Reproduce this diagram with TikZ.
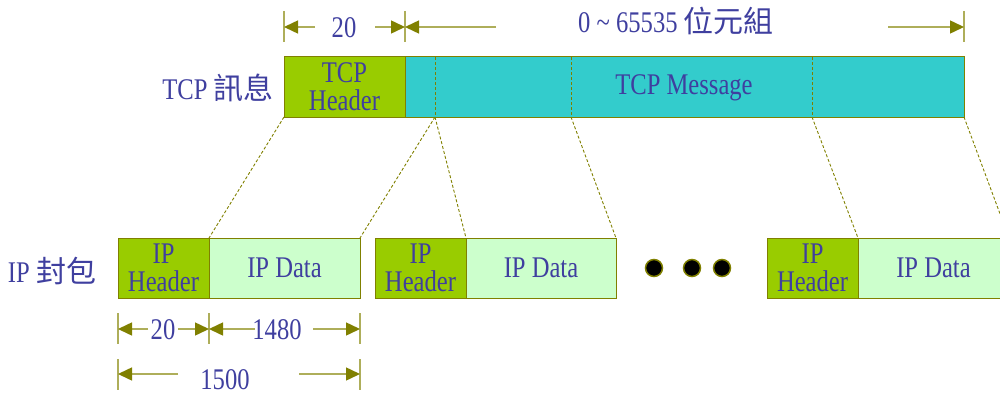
\documentclass[tikz,border=0pt]{standalone}
\usepackage{fontspec}
\setmainfont{Liberation Serif}[FakeStretch=0.82]
\newfontfamily\cjk{Noto Sans CJK TC}
\usetikzlibrary{arrows.meta}
\definecolor{ink}{HTML}{3F3F9F}
\definecolor{olive}{HTML}{808000}
\definecolor{dimline}{HTML}{AEAE5A}
\definecolor{hdrgreen}{HTML}{99CC00}
\definecolor{msgcyan}{HTML}{33CCCC}
\definecolor{datagreen}{HTML}{CCFFCC}
\newcommand\labelsize{\fontsize{30}{28}\selectfont}
\tikzset{
  field/.style={draw=olive, line width=1pt, inner sep=0pt, outer sep=0pt,
    anchor=north west, minimum height=60pt, text=ink, align=center,
    font=\labelsize},
  hdr/.style={field, fill=hdrgreen, minimum width=91pt},
  ipdata/.style={field, fill=datagreen, minimum width=151pt},
  split/.style={draw=olive, dashed, dash pattern=on 3pt off 2pt, line width=0.9pt},
  tick/.style={draw=dimline, line width=1.5pt},
  dimarrow/.style={draw=dimline, line width=1.5pt,
    -{Triangle[length=14pt,width=13pt,color=olive,fill=olive]}},
  dimtext/.style={text=ink, font=\labelsize, inner sep=0pt},
  sidelabel/.style={text=ink, font=\labelsize, inner sep=0pt},
  dot/.style={circle, fill=black, draw=olive, line width=1.5pt, minimum size=17pt, inner sep=0pt}
}
\begin{document}
\begin{tikzpicture}[x=1pt,y=-1pt]
\useasboundingbox (0,0) rectangle (1000,396);
\clip (0,0) rectangle (1000,396);

% ---- TCP message ----
\node[field, fill=msgcyan, minimum width=559pt] (tcpm) at (405,57) {};
\node[field, fill=hdrgreen, minimum width=121pt] (tcph) at (284,57) {TCP\\Header};
\node[text=ink, font=\labelsize, inner sep=0pt] (msgtxt) at (684,88) {TCP Message};
\node[sidelabel] (tcplabel) at (218,88) {TCP {\cjk 訊息}};

% segment boundaries inside the message
\coordinate (s1t) at (435,57);  \coordinate (s1b) at (435,117);
\coordinate (s2t) at (571,57);  \coordinate (s2b) at (571,117);
\coordinate (s3t) at (812,57);  \coordinate (s3b) at (812,117);
\draw[split] (s1t) -- (s1b);
\draw[split] (s2t) -- (s2b);
\draw[split] (s3t) -- (s3b);

% ---- IP packets ----
\node[hdr] (h1) at (118,238) {IP\\Header};
\node[ipdata] (d1) at (209,238) {IP Data};
\node[hdr] (h2) at (375,238) {IP\\Header};
\node[ipdata, minimum width=150pt] (d2) at (466,238) {IP Data};
\node[hdr] (h3) at (767,238) {IP\\Header};
\node[ipdata] (d3) at (858,238) {IP Data};
\node[sidelabel] (iplabel) at (52,271) {IP {\cjk 封包}};

\node[dot] (dot1) at (654,268) {};
\node[dot] (dot2) at (692,268) {};
\node[dot] (dot3) at (722,268) {};

% ---- fragmentation guides ----
\draw[split] (tcph.south west) -- (h1.north east);
\draw[split] (s1b) -- (d1.north east);
\draw[split] (s1b) -- (h2.north east);
\draw[split] (s2b) -- (d2.north east);
\draw[split] (s3b) -- (h3.north east);
\draw[split] (tcpm.south east) -- (d3.north east);

% ---- top dimensions ----
\coordinate (ta1) at (284,11); \coordinate (tb1) at (284,42);
\coordinate (ta2) at (405,11); \coordinate (tb2) at (405,42);
\coordinate (ta3) at (964,11); \coordinate (tb3) at (964,42);
\draw[tick] (ta1) -- (tb1);
\draw[tick] (ta2) -- (tb2);
\draw[tick] (ta3) -- (tb3);
\coordinate (L1) at (284,27); \coordinate (L2) at (405,27); \coordinate (L3) at (964,27);
\coordinate (e1) at (315,27); \coordinate (e2) at (375,27);
\coordinate (e3) at (496,27); \coordinate (e4) at (888,27);
\draw[dimarrow] (e1) -- (L1);
\draw[dimarrow] (e2) -- (L2);
\draw[dimarrow] (e3) -- (L2);
\draw[dimarrow] (e4) -- (L3);
\node[dimtext] (t20) at (344,28) {20};
\node[dimtext] (trange) at (676,21) {0 \char"007E{} 65535 {\cjk 位元組}};

% ---- bottom dimensions ----
\coordinate (ba1) at (118,313); \coordinate (bb1) at (118,344);
\coordinate (ba2) at (209,313); \coordinate (bb2) at (209,344);
\coordinate (ba3) at (360,313); \coordinate (bb3) at (360,344);
\draw[tick] (ba1) -- (bb1);
\draw[tick] (ba2) -- (bb2);
\draw[tick] (ba3) -- (bb3);
\coordinate (P1) at (118,329); \coordinate (P2) at (209,329); \coordinate (P3) at (360,329);
\coordinate (f1) at (148,329); \coordinate (f2) at (178,329);
\coordinate (f3) at (255,329); \coordinate (f4) at (313,329);
\draw[dimarrow] (f1) -- (P1);
\draw[dimarrow] (f2) -- (P2);
\draw[dimarrow] (f3) -- (P2);
\draw[dimarrow] (f4) -- (P3);
\node[dimtext] (b20) at (163,330) {20};
\node[dimtext] (b1480) at (277,330) {1480};

\coordinate (ca1) at (118,359); \coordinate (cb1) at (118,390);
\coordinate (ca3) at (360,359); \coordinate (cb3) at (360,390);
\draw[tick] (ca1) -- (cb1);
\draw[tick] (ca3) -- (cb3);
\coordinate (Q1) at (118,374); \coordinate (Q3) at (360,374);
\coordinate (g1) at (178,374); \coordinate (g2) at (299,374);
\draw[dimarrow] (g1) -- (Q1);
\draw[dimarrow] (g2) -- (Q3);
\node[dimtext] (b1500) at (225,380) {1500};
\end{tikzpicture}
\end{document}
